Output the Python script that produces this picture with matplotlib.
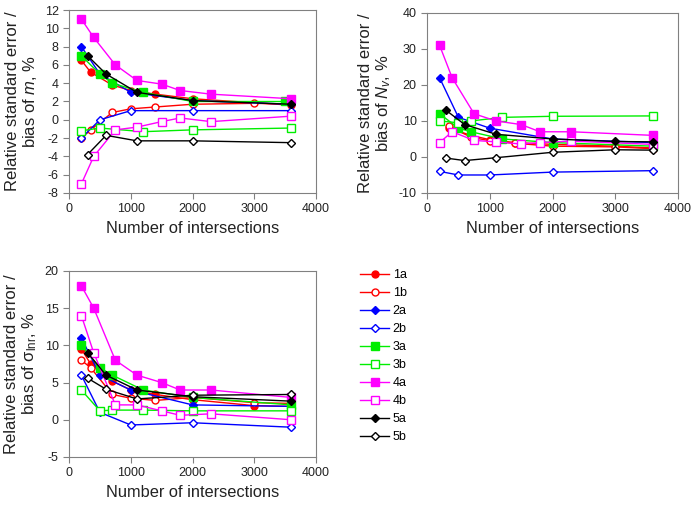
import matplotlib
matplotlib.use("Agg")
import matplotlib.pyplot as plt
from matplotlib.lines import Line2D

plt.rcParams["font.family"] = ["Liberation Sans", "DejaVu Sans"]
plt.rcParams["mathtext.fontset"] = "custom"
plt.rcParams["mathtext.rm"] = "Liberation Sans"
plt.rcParams["mathtext.it"] = "Liberation Sans:italic"
plt.rcParams["axes.unicode_minus"] = False

series_names = ["1a", "1b", "2a", "2b", "3a", "3b", "4a", "4b", "5a", "5b"]

# panel 1: m
m_x = {
    "1a": [200, 350, 700, 1000, 1400, 2000, 3600],
    "1b": [200, 350, 700, 1000, 1400, 2000, 3000, 3600],
    "2a": [200, 500, 1000, 2000, 3600],
    "2b": [200, 500, 1000, 2000, 3600],
    "3a": [200, 500, 700, 1200, 2000, 3500],
    "3b": [200, 500, 1200, 2000, 3600],
    "4a": [200, 400, 750, 1100, 1500, 1800, 2300, 3600],
    "4b": [200, 400, 750, 1100, 1500, 1800, 2300, 3600],
    "5a": [300, 600, 1100, 2000, 3600],
    "5b": [300, 600, 1100, 2000, 3600],
}
m_y = {
    "1a": [6.5, 5.2, 3.8, 3.2, 2.8, 2.3, 1.6],
    "1b": [-2.0, -1.1, 0.8, 1.2, 1.4, 1.7, 1.8, 1.7],
    "2a": [8.0, 5.0, 3.0, 2.1, 1.7],
    "2b": [-2.0, 0.0, 1.0, 1.0, 1.0],
    "3a": [7.0, 5.0, 4.0, 3.0, 2.0, 2.0],
    "3b": [-1.2, -0.9, -1.3, -1.1, -0.9],
    "4a": [11.0, 9.0, 6.0, 4.3, 3.9, 3.2, 2.8, 2.3],
    "4b": [-7.0, -4.0, -1.1, -0.8, -0.2, 0.2, -0.2, 0.4],
    "5a": [7.0, 5.0, 3.0, 2.1, 1.7],
    "5b": [-3.8, -1.7, -2.3, -2.3, -2.5],
}

# panel 2: Nv
nv_x = {
    "1a": [350, 700, 1000, 1400, 2000, 3000, 3600],
    "1b": [350, 700, 1000, 1400, 2000, 3000, 3600],
    "2a": [200, 500, 1000, 2000, 3600],
    "2b": [200, 500, 1000, 2000, 3600],
    "3a": [200, 500, 700, 1200, 2000, 3600],
    "3b": [200, 500, 700, 1200, 2000, 3600],
    "4a": [200, 400, 750, 1100, 1500, 1800, 2300, 3600],
    "4b": [200, 400, 750, 1100, 1500, 1800, 2300, 3600],
    "5a": [300, 600, 1100, 2000, 3000, 3600],
    "5b": [300, 600, 1100, 2000, 3000, 3600],
}
nv_y = {
    "1a": [8.0, 6.0, 4.8, 4.0, 3.5, 3.0, 2.5],
    "1b": [8.5, 5.5, 4.5, 3.8, 3.0, 2.8, 2.3],
    "2a": [22.0, 11.0, 8.0, 5.0, 4.0],
    "2b": [-4.0, -5.0, -5.0, -4.2, -3.8],
    "3a": [12.0, 8.0, 7.0, 5.0, 4.0, 3.0],
    "3b": [10.0, 9.5, 10.0, 11.0, 11.3, 11.4],
    "4a": [31.0, 22.0, 12.0, 10.0, 9.0, 7.0, 7.0, 6.0],
    "4b": [4.0, 7.0, 4.6, 4.2, 3.6, 4.0, 4.4, 3.5],
    "5a": [13.0, 9.0, 6.3, 5.0, 4.3, 4.2],
    "5b": [-0.3, -1.0, -0.2, 1.3, 2.0, 1.9],
}

# panel 3: sigma lnr
s_x = {
    "1a": [200, 350, 700, 1000, 1400, 2000, 3000, 3600],
    "1b": [200, 350, 700, 1000, 1400, 2000, 3000, 3600],
    "2a": [200, 500, 1000, 2000, 3600],
    "2b": [200, 500, 1000, 2000, 3600],
    "3a": [200, 500, 700, 1200, 2000, 3600],
    "3b": [200, 500, 700, 1200, 2000, 3600],
    "4a": [200, 400, 750, 1100, 1500, 1800, 2300, 3600],
    "4b": [200, 400, 750, 1100, 1500, 1800, 2300, 3600],
    "5a": [300, 600, 1100, 2000, 3600],
    "5b": [300, 600, 1100, 2000, 3600],
}
s_y = {
    "1a": [9.5, 7.5, 5.2, 4.0, 3.4, 2.7, 1.9, 1.8],
    "1b": [8.0, 7.0, 3.4, 2.9, 2.6, 3.0, 2.3, 2.2],
    "2a": [11.0, 6.0, 4.0, 2.0, 1.8],
    "2b": [6.0, 1.0, -0.7, -0.4, -1.0],
    "3a": [10.0, 7.0, 6.0, 4.0, 3.0, 2.0],
    "3b": [4.0, 1.2, 1.3, 1.3, 1.2, 1.2],
    "4a": [18.0, 15.0, 8.0, 6.0, 5.0, 4.0, 4.0, 3.0],
    "4b": [14.0, 9.0, 2.0, 2.0, 1.2, 0.6, 0.8, 0.0],
    "5a": [9.0, 6.0, 4.0, 3.1, 2.5],
    "5b": [5.6, 4.1, 2.8, 3.3, 3.4],
}

styles = {
    "1a": dict(color="#FF0000", marker="o", filled=True, ms=5),
    "1b": dict(color="#FF0000", marker="o", filled=False, ms=5),
    "2a": dict(color="#0000FF", marker="D", filled=True, ms=3.8),
    "2b": dict(color="#0000FF", marker="D", filled=False, ms=3.8),
    "3a": dict(color="#00EE00", marker="s", filled=True, ms=5.5),
    "3b": dict(color="#00EE00", marker="s", filled=False, ms=5.5),
    "4a": dict(color="#FF00FF", marker="s", filled=True, ms=5.5),
    "4b": dict(color="#FF00FF", marker="s", filled=False, ms=5.5),
    "5a": dict(color="#000000", marker="D", filled=True, ms=4.3),
    "5b": dict(color="#000000", marker="D", filled=False, ms=3.8),
}

grey = "#808080"
text_col = "#222222"
fig = plt.figure(figsize=(6.91, 5.13), dpi=100)

ax1 = fig.add_axes([0.0999, 0.6238, 0.3575, 0.3567])
ax2 = fig.add_axes([0.618, 0.6238, 0.3632, 0.351])
ax3 = fig.add_axes([0.0999, 0.1092, 0.3575, 0.3626])


def draw(ax, xs, ys, ylim, yticks, ylabel):
    for name in series_names:
        st = styles[name]
        ax.plot(xs[name], ys[name], color=st["color"], lw=1.0,
                marker=st["marker"], markersize=st["ms"],
                markerfacecolor=st["color"] if st["filled"] else "white",
                markeredgecolor=st["color"], markeredgewidth=1.0)
    ax.set_xlim(0, 4000)
    ax.set_xticks([0, 1000, 2000, 3000, 4000])
    ax.set_ylim(*ylim)
    ax.set_yticks(yticks)
    for sp in ax.spines.values():
        sp.set_color(grey)
    ax.tick_params(colors=text_col, labelsize=9, length=4, color=grey)
    ax.set_xlabel("Number of intersections", fontsize=11.8, color=text_col)
    ax.set_ylabel(ylabel, fontsize=12, color=text_col, linespacing=1.1)


draw(ax1, m_x, m_y, (-8, 12), range(-8, 13, 2),
     "Relative standard error /\nbias of $m$, %")
draw(ax2, nv_x, nv_y, (-10, 40), range(-10, 41, 10),
     "Relative standard error /\nbias of $N_v$, %")
draw(ax3, s_x, s_y, (-5, 20), range(-5, 21, 5),
     "Relative standard error /\nbias of σ$_{\\mathrm{lnr}}$, %")

handles = []
for name in series_names:
    st = styles[name]
    handles.append(Line2D([], [], color=st["color"], lw=1.0, marker=st["marker"],
                          markersize=st["ms"],
                          markerfacecolor=st["color"] if st["filled"] else "white",
                          markeredgecolor=st["color"]))
fig.legend(handles, series_names, loc="upper left", bbox_to_anchor=(0.505, 0.4975),
           frameon=False, fontsize=9, handlelength=2.3, labelspacing=0.48,
           handletextpad=0.3)

fig.savefig("out.png", dpi=100)
